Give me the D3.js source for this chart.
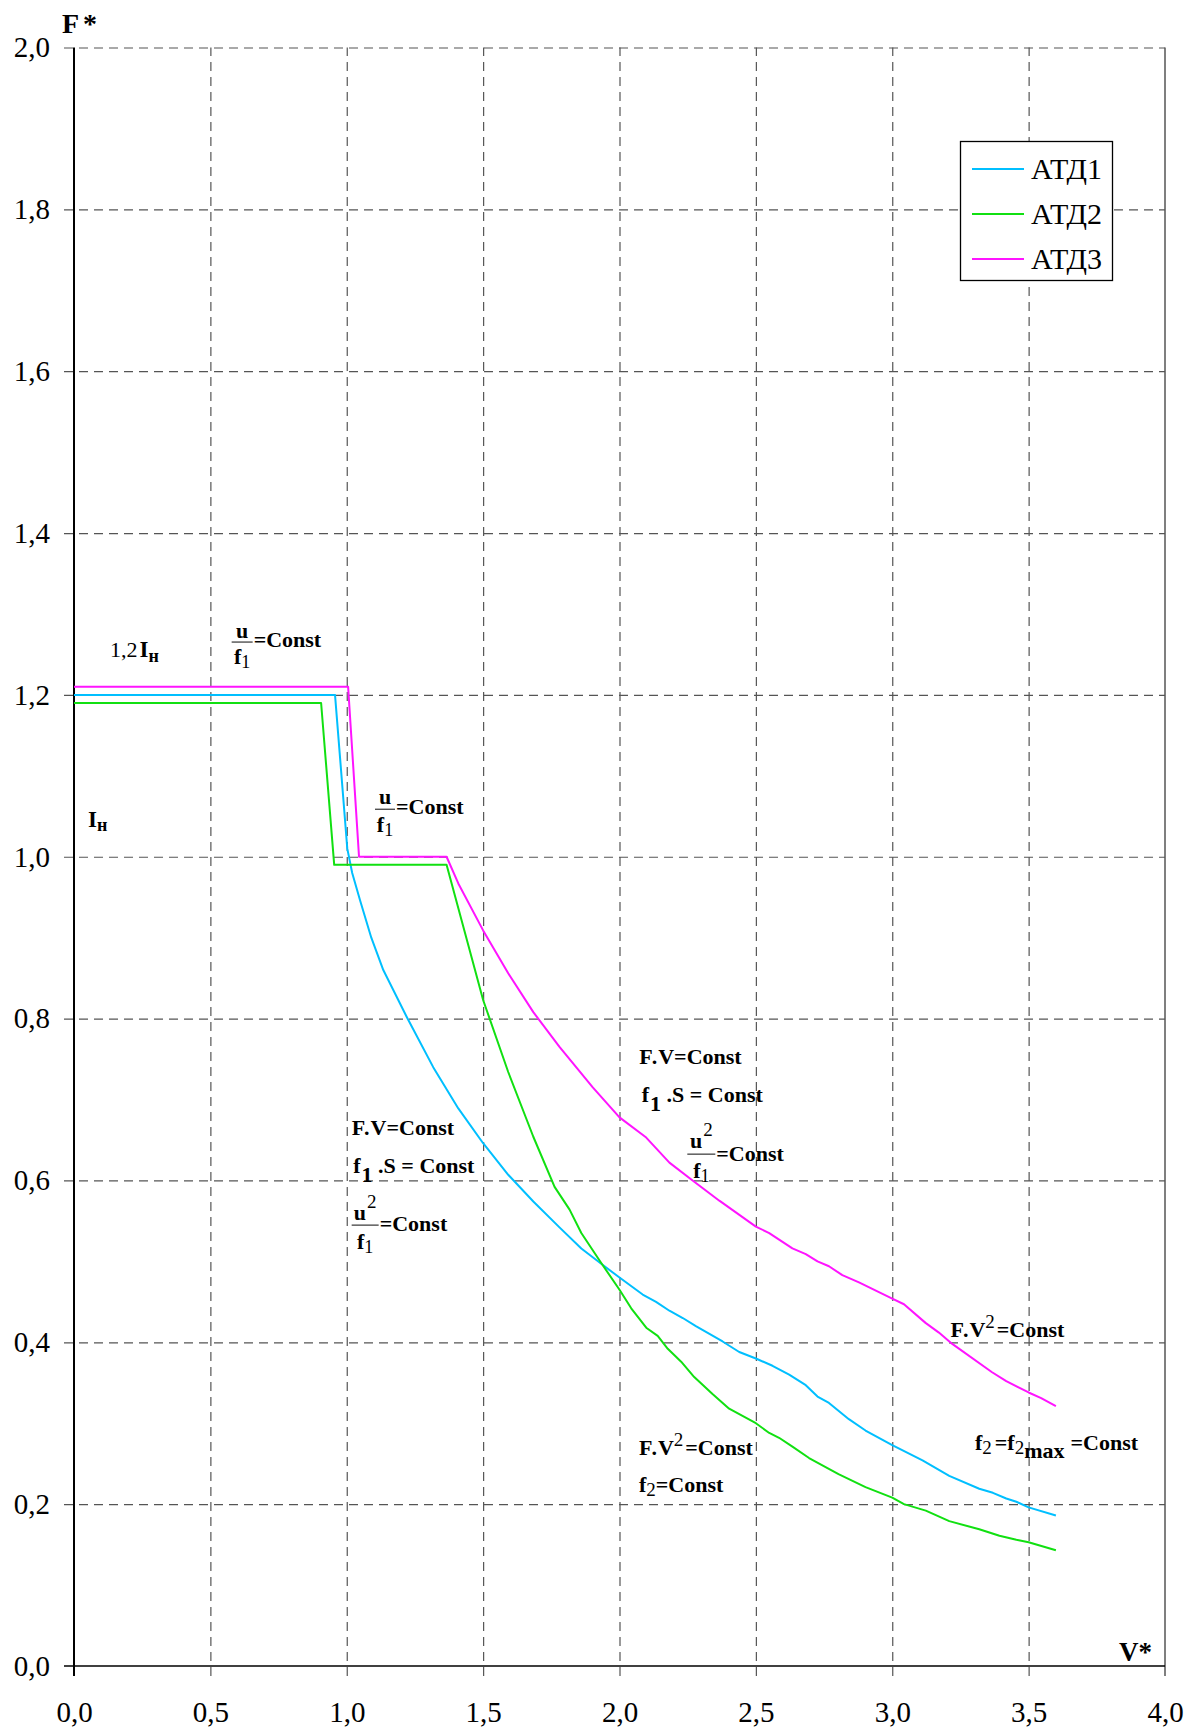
<!DOCTYPE html>
<html><head><meta charset="utf-8">
<script src="https://cdn.jsdelivr.net/npm/d3@7"></script>
<style>
body{margin:0;background:#fff}
svg{display:block}
text{font-family:"Liberation Serif","Times New Roman",serif;fill:#000}
</style>
</head><body>
<svg id="chart" width="1200" height="1731"></svg>
<script>
// ---------- data ----------
const xTicks = [0, 0.5, 1.0, 1.5, 2.0, 2.5, 3.0, 3.5, 4.0];
const yTicks = [0, 0.2, 0.4, 0.6, 0.8, 1.0, 1.2, 1.4, 1.6, 1.8, 2.0];
const seriesNames = ["АТД1", "АТД2", "АТД3"];
const seriesColors = ["#00bfff", "#11e011", "#ff14ff"];

const atd1V = [0, 0.957, 0.976, 1.002, 1.02, 1.049, 1.09, 1.134, 1.22, 1.317, 1.409, 1.5, 1.592, 1.684, 1.78, 1.86, 1.933, 2.0, 2.085, 2.134, 2.183, 2.232, 2.28, 2.378, 2.439, 2.5, 2.561, 2.622, 2.683, 2.726, 2.768, 2.841, 2.902, 3.0, 3.111, 3.209, 3.319, 3.369, 3.418, 3.455, 3.5, 3.6];
const atd1F = [1.2, 1.2, 1.12, 1.01, 0.98, 0.946, 0.90, 0.86, 0.802, 0.740, 0.689, 0.646, 0.607, 0.574, 0.542, 0.516, 0.497, 0.480, 0.459, 0.450, 0.439, 0.430, 0.420, 0.401, 0.388, 0.380, 0.371, 0.360, 0.347, 0.333, 0.325, 0.305, 0.291, 0.273, 0.254, 0.235, 0.219, 0.214, 0.207, 0.203, 0.196, 0.186];

const atd2V = [0, 0.906, 0.954, 1.366, 1.5, 1.592, 1.684, 1.762, 1.817, 1.86, 1.933, 2.0, 2.043, 2.098, 2.14, 2.177, 2.226, 2.274, 2.341, 2.402, 2.451, 2.5, 2.549, 2.585, 2.634, 2.695, 2.803, 2.902, 3.0, 3.043, 3.123, 3.209, 3.319, 3.393, 3.455, 3.5, 3.6];
const atd2F = [1.19, 1.19, 0.99, 0.99, 0.823, 0.734, 0.654, 0.592, 0.564, 0.535, 0.498, 0.465, 0.442, 0.418, 0.408, 0.392, 0.376, 0.357, 0.336, 0.318, 0.309, 0.300, 0.288, 0.282, 0.271, 0.257, 0.237, 0.221, 0.208, 0.200, 0.192, 0.179, 0.169, 0.161, 0.156, 0.153, 0.143];

const atd3V = [0, 1.005, 1.045, 1.366, 1.409, 1.5, 1.592, 1.684, 1.78, 1.902, 2.0, 2.098, 2.183, 2.268, 2.366, 2.5, 2.549, 2.634, 2.683, 2.726, 2.768, 2.817, 2.878, 3.0, 3.043, 3.122, 3.171, 3.22, 3.366, 3.418, 3.5, 3.546, 3.6];
const atd3F = [1.21, 1.21, 1.0, 1.0, 0.967, 0.909, 0.856, 0.808, 0.765, 0.715, 0.678, 0.653, 0.622, 0.600, 0.575, 0.543, 0.535, 0.516, 0.509, 0.500, 0.494, 0.483, 0.474, 0.454, 0.447, 0.424, 0.412, 0.398, 0.363, 0.352, 0.338, 0.331, 0.321];

const seriesV = [atd1V, atd2V, atd3V];
const seriesF = [atd1F, atd2F, atd3F];

// ---------- layout ----------
const svg = d3.select("#chart");
const L = 74, R = 1165, T = 47.5, B = 1666;
const x = d3.scaleLinear().domain([0, 4]).range([L, R]);
const y = d3.scaleLinear().domain([0, 2]).range([B, T]);
const fmt = d => d3.format(".1f")(d).replace(".", ",");
const gridStyle = s => s.attr("stroke", "#555").attr("stroke-width", 1.2).attr("stroke-dasharray", "9,6");

// y axis with horizontal grid lines extending 10px left of the axis
const ya = svg.append("g").attr("transform", `translate(${L - 10},0)`)
  .call(d3.axisLeft(y).tickValues(yTicks).tickFormat(fmt).tickSize(-(R - L + 10)).tickPadding(14).tickSizeOuter(0));
ya.select(".domain").remove();
ya.selectAll(".tick line").call(gridStyle).filter(d => d === 0).remove();
ya.selectAll(".tick text").attr("font-size", 29).attr("font-family", "Liberation Serif").attr("fill", "#000");

// x axis with vertical grid lines extending 10px below
const xa = svg.append("g").attr("transform", `translate(0,${B + 10})`)
  .call(d3.axisBottom(x).tickValues(xTicks).tickFormat(fmt).tickSize(-(B + 10 - T)).tickPadding(25).tickSizeOuter(0));
xa.select(".domain").remove();
xa.selectAll(".tick line").call(gridStyle).filter(d => d === 0 || d === 4).remove();
xa.selectAll(".tick text").attr("font-size", 29).attr("font-family", "Liberation Serif").attr("fill", "#000");

// frame
svg.append("line").attr("x1", x(4)).attr("x2", x(4)).attr("y1", T).attr("y2", B + 10).attr("stroke", "#555").attr("stroke-width", 1.5);
svg.append("line").attr("x1", L - 10).attr("x2", R).attr("y1", B).attr("y2", B).attr("stroke", "#000").attr("stroke-width", 1.6);
svg.append("line").attr("x1", L).attr("x2", L).attr("y1", T).attr("y2", B + 10).attr("stroke", "#000").attr("stroke-width", 2);

// axis titles
svg.append("text").attr("x", 62).attr("y", 33).attr("font-size", 28).attr("font-weight", "bold").text("F").append("tspan").attr("dx", 4).text("*");
svg.append("text").attr("x", 1119).attr("y", 1661).attr("font-size", 27).attr("font-weight", "bold").text("V*");

// series lines
const line = d3.line().x(d => x(d[0])).y(d => y(d[1]));
seriesV.forEach((vs, i) => {
  const pts = vs.map((v, j) => [v, seriesF[i][j]]);
  svg.append("path").datum(pts).attr("d", line).attr("fill", "none")
    .attr("stroke", seriesColors[i]).attr("stroke-width", 2).attr("stroke-linejoin", "round");
});

// legend
const lg = svg.append("g");
lg.append("rect").attr("x", 960.5).attr("y", 141.5).attr("width", 152).attr("height", 139)
  .attr("fill", "#fff").attr("stroke", "#000").attr("stroke-width", 1.3);
seriesNames.forEach((n, i) => {
  const ly = 169 + i * 45;
  lg.append("line").attr("x1", 972).attr("x2", 1024).attr("y1", ly).attr("y2", ly)
    .attr("stroke", seriesColors[i]).attr("stroke-width", 2);
  lg.append("text").attr("x", 1031).attr("y", ly + 10).attr("font-size", 30).text(n);
});

// ---------- annotations ----------
// parts: [text, bold, size, baselineOffset, dx]
function rich(px, py, parts, anchor) {
  const t = svg.append("text").attr("x", px).attr("y", py);
  if (anchor) t.attr("text-anchor", anchor);
  let prev = 0;
  parts.forEach(p => {
    const [s, b, fs, off, dx] = p;
    const ts = t.append("tspan").text(s).attr("font-size", fs)
      .attr("font-weight", b ? "bold" : "normal").attr("dy", (off || 0) - prev);
    if (dx) ts.attr("dx", dx);
    prev = off || 0;
  });
  return t;
}
function label(xv, yv, parts) { return rich(x(xv), y(yv), parts); }
const FS = 22;
function frac(xv, yv, w, sup, numDy, denDy, constDy) {
  const bx = x(xv), by = y(yv);
  svg.append("line").attr("x1", bx).attr("x2", bx + w).attr("y1", by).attr("y2", by).attr("stroke", "#333").attr("stroke-width", 1.2);
  const num = [["u", true, FS, 0]];
  if (sup) num.push(["2", false, 19, -12, 1]);
  rich(bx + w / 2, by - numDy, num, "middle");
  rich(bx + w / 2, by + denDy, [["f", true, FS, 0], ["1", false, 18, 4]], "middle");
  rich(bx + w + 1, by + constDy, [["=Const", true, FS, 0]]);
}

// 1,2 I_н
label(0.132, 1.2464, [["1,2", false, 22, 0], ["I", true, 23, 0, 2], ["н", true, 18, 5]]);
// I_н
label(0.0513, 1.0369, [["I", true, 23, 0], ["н", true, 18, 4]]);
// u/f1 = Const (upper)
frac(0.578, 1.2653, 21, false, 4, 22, 5);
// u/f1 = Const (lower)
frac(1.1036, 1.0587, 20, false, 5, 23, 5);

// left block
label(1.018, 0.656, [["F", true, FS, 0], [".", true, FS, 0, 1], ["V", true, FS, 0, 1], ["=Const", true, FS, 0]]);
label(1.024, 0.6086, [["f", true, FS, 0], ["1", true, FS, 9, 1], [" .S = Const", true, FS, 0]]);
frac(1.018, 0.5448, 27, true, 5, 24, 6);

// right block
label(2.0726, 0.7445, [["F", true, FS, 0], [".", true, FS, 0, 1], ["V", true, FS, 0, 1], ["=Const", true, FS, 0]]);
label(2.0814, 0.6971, [["f", true, FS, 0], ["1", true, FS, 9, 1], [" .S = Const", true, FS, 0]]);
frac(2.2486, 0.6325, 28, true, 6, 24, 7);

// F.V^2 = Const (right)
label(3.2134, 0.4068, [["F", true, FS, 0], [".", true, FS, 0, 1], ["V", true, FS, 0, 1], ["2", false, 19, -9], ["=Const", true, FS, 0, 2]]);
// f2 = f2max = Const
label(3.3034, 0.2668, [["f", true, FS, 0], ["2", false, 19, 4], ["=f", true, FS, 0, 3], ["2", false, 19, 4], ["max", true, FS, 8], ["=Const", true, FS, 0, 6]]);
// bottom block
label(2.0715, 0.2607, [["F", true, FS, 0], [".", true, FS, 0, 1], ["V", true, FS, 0, 1], ["2", false, 19, -9], ["=Const", true, FS, 0, 2]]);
label(2.0715, 0.2149, [["f", true, FS, 0], ["2", false, 19, 4], ["=Const", true, FS, 0]]);
</script>
</body></html>
